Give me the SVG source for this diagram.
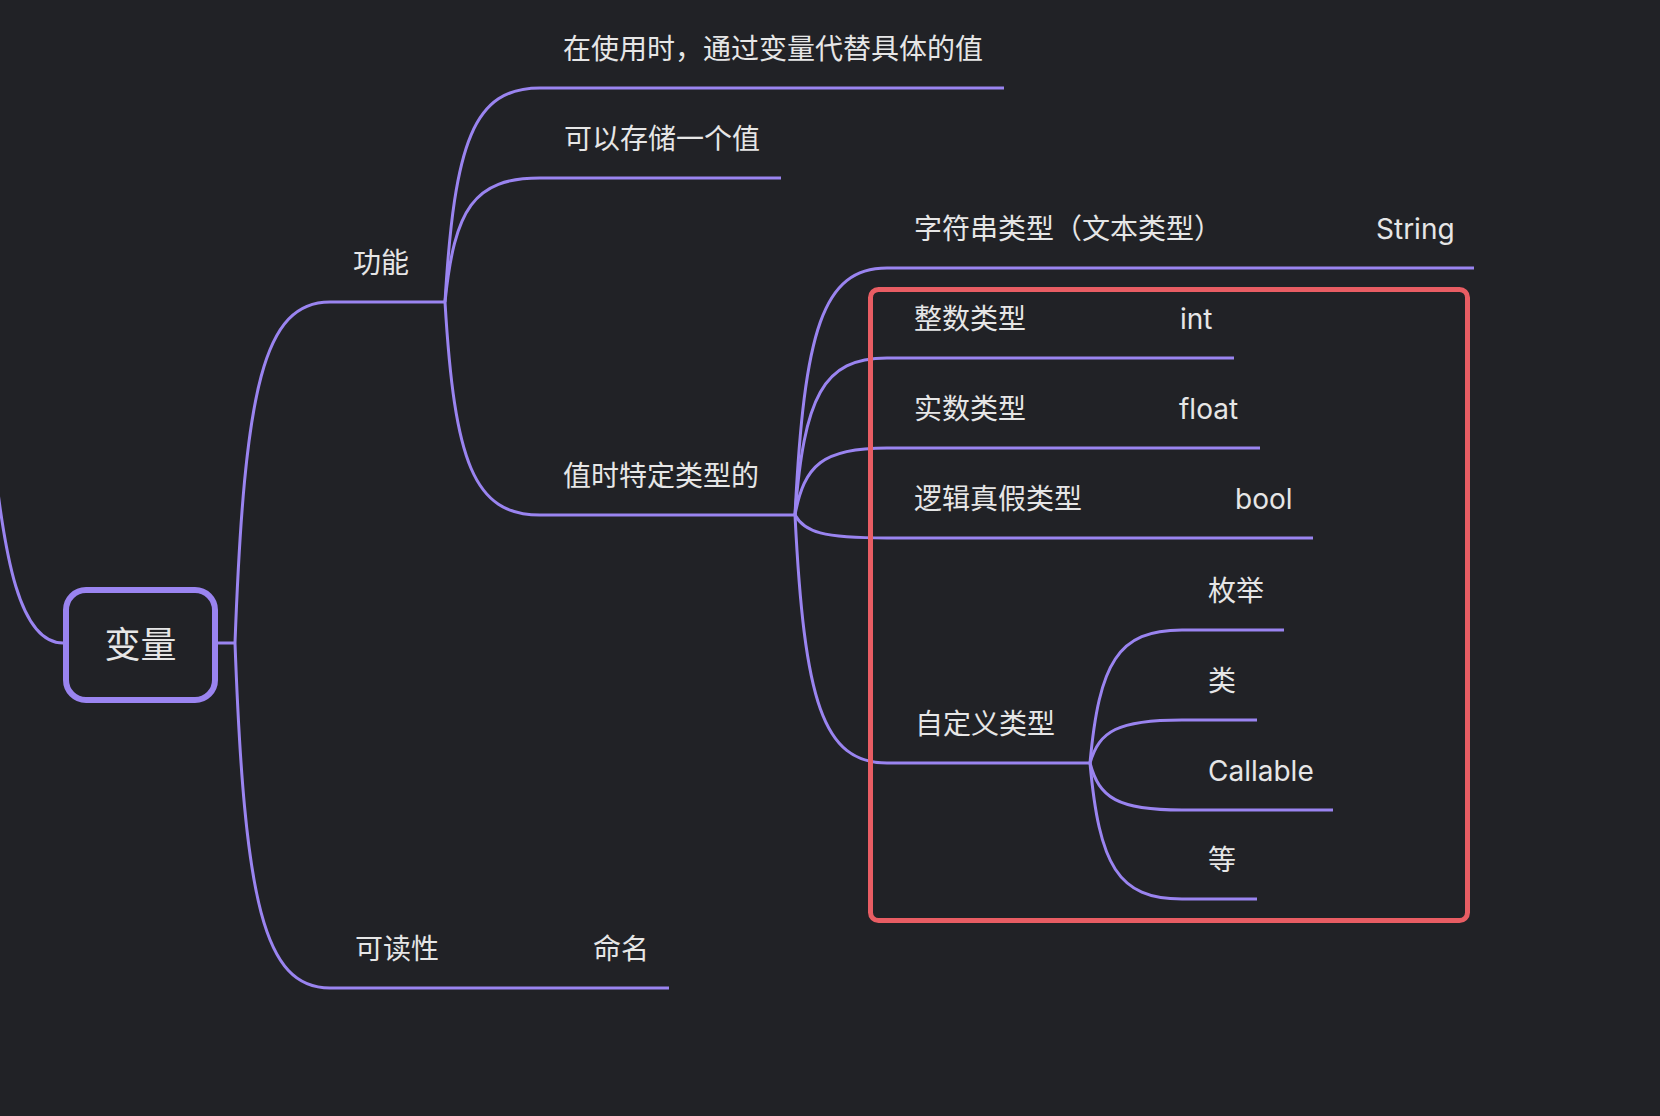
<svg xmlns="http://www.w3.org/2000/svg" width="1660" height="1116" viewBox="0 0 1660 1116">
<style>
.bg{fill:#212226}
.c{fill:none;stroke:#9a84f0;stroke-width:3;stroke-linecap:butt}
.ul{fill:none;stroke:#9a84f0;stroke-width:3}
.t{fill:#e6e6e6;font-family:"Inter","Noto Sans CJK SC",sans-serif;font-size:28px}
.root{fill:#212226;stroke:#9a84f0;stroke-width:6}
.rt{fill:#e6e6e6;font-family:"Noto Sans CJK SC",sans-serif;font-size:36px;text-anchor:middle}
.hl{fill:none;stroke:#e85d63;stroke-width:5}
</style>
<rect class="bg" x="0" y="0" width="1660" height="1116"/>
<g id="connectors">
<path class="c" d="M -8,440 C 4,560 20,643 63,643"/>
<path class="c" d="M 218,643 L 235,643"/>
<path class="c" d="M 235,643 C 244.5,387 263.5,302 330,302"/>
<path class="c" d="M 235,643 C 244.5,902 263.5,988 330,988"/>
<path class="c" d="M 445,302 C 454.5,141.5 473.5,88 540,88"/>
<path class="c" d="M 445,302 C 454.5,209 473.5,178 540,178"/>
<path class="c" d="M 445,302 C 454.5,462 473.5,515 540,515"/>
<path class="c" d="M 795,515 C 804.2,330 822.6,268 887,268"/>
<path class="c" d="M 795,515 C 804.2,397 822.6,358 887,358"/>
<path class="c" d="M 795,515 C 804.2,465 822.6,448 887,448"/>
<path class="c" d="M 795,515 C 804.2,532 822.6,538 887,538"/>
<path class="c" d="M 795,515 C 804.2,701 822.6,763 887,763"/>
<path class="c" d="M 1090,763 C 1099.2,663 1117.6,630 1182,630"/>
<path class="c" d="M 1090,763 C 1099.2,731 1117.6,720 1182,720"/>
<path class="c" d="M 1090,763 C 1099.2,798 1117.6,810 1182,810"/>
<path class="c" d="M 1090,763 C 1099.2,865 1117.6,899 1182,899"/>
<path class="c" d="M 500,988 L 520,988"/>
<path class="c" d="M 1120,358 L 1150,358"/>
<path class="c" d="M 1120,448 L 1150,448"/>
<path class="c" d="M 1140,538 L 1170,538"/>
<path class="c" d="M 1250,268 L 1280,268"/>
</g>
<g id="node-root">
<rect class="root" x="66" y="590" width="149" height="110" rx="20"/>
<text class="rt" x="140.5" y="658">变量</text>
</g>
<g id="node-gongneng">
<path class="ul" d="M 330,302 L 445,302"/>
<text class="t" x="353" y="273">功能</text>
</g>
<g id="node-shiyong">
<path class="ul" d="M 540,88 L 1004,88"/>
<text class="t" x="563" y="59">在使用时，通过变量代替具体的值</text>
</g>
<g id="node-cunchu">
<path class="ul" d="M 540,178 L 781,178"/>
<text class="t" x="564" y="149">可以存储一个值</text>
</g>
<g id="node-leixing">
<path class="ul" d="M 540,515 L 795,515"/>
<text class="t" x="563" y="486">值时特定类型的</text>
</g>
<g id="node-zifuchuan">
<path class="ul" d="M 887,268 L 1250,268"/>
<text class="t" x="914" y="239">字符串类型（文本类型）</text>
</g>
<g id="node-string">
<path class="ul" d="M 1280,268 L 1474,268"/>
<text class="t" x="1376" y="239">String</text>
</g>
<g id="node-zhengshu">
<path class="ul" d="M 887,358 L 1120,358"/>
<text class="t" x="914" y="329">整数类型</text>
</g>
<g id="node-int">
<path class="ul" d="M 1150,358 L 1234,358"/>
<text class="t" x="1180" y="329">int</text>
</g>
<g id="node-shishu">
<path class="ul" d="M 887,448 L 1120,448"/>
<text class="t" x="914" y="419">实数类型</text>
</g>
<g id="node-float">
<path class="ul" d="M 1150,448 L 1260,448"/>
<text class="t" x="1179" y="419">float</text>
</g>
<g id="node-luoji">
<path class="ul" d="M 887,538 L 1140,538"/>
<text class="t" x="914" y="509">逻辑真假类型</text>
</g>
<g id="node-bool">
<path class="ul" d="M 1170,538 L 1313,538"/>
<text class="t" x="1235" y="509">bool</text>
</g>
<g id="node-zidingyi">
<path class="ul" d="M 887,763 L 1090,763"/>
<text class="t" x="915" y="734">自定义类型</text>
</g>
<g id="node-meiju">
<path class="ul" d="M 1182,630 L 1284,630"/>
<text class="t" x="1208" y="601">枚举</text>
</g>
<g id="node-lei">
<path class="ul" d="M 1182,720 L 1257,720"/>
<text class="t" x="1208" y="691">类</text>
</g>
<g id="node-callable">
<path class="ul" d="M 1182,810 L 1333,810"/>
<text class="t" x="1208" y="781">Callable</text>
</g>
<g id="node-deng">
<path class="ul" d="M 1182,899 L 1257,899"/>
<text class="t" x="1208" y="870">等</text>
</g>
<g id="node-kedu">
<path class="ul" d="M 330,988 L 500,988"/>
<text class="t" x="355" y="959">可读性</text>
</g>
<g id="node-mingming">
<path class="ul" d="M 520,988 L 669,988"/>
<text class="t" x="593" y="959">命名</text>
</g>
<g id="highlight">
<rect class="hl" x="870.5" y="289.5" width="597" height="631" rx="8"/>
</g>
</svg>
